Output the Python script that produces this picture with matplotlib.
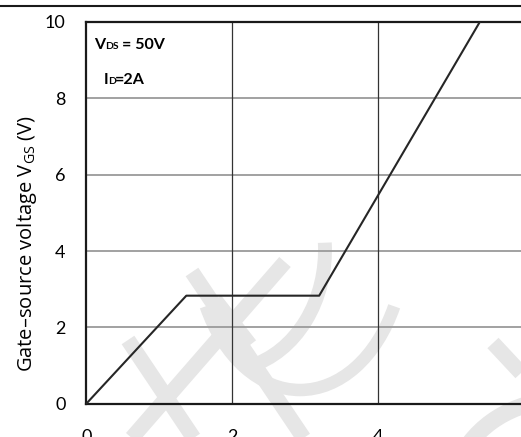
import matplotlib
matplotlib.use('Agg')
import matplotlib.pyplot as plt
from matplotlib.lines import Line2D
from matplotlib.patches import Arc

plt.rcParams['font.family'] = ['Lato', 'DejaVu Sans']
plt.rcParams['mathtext.default'] = 'regular'

# gate charge curve (x: Qg, y: Vgs)
qg = [0, 1.37, 3.19, 5.39]
vgs = [0, 2.83, 2.83, 10]
xticks = [0, 2, 4]
yticks = [0, 2, 4, 6, 8, 10]

W, H = 521, 437
fig = plt.figure(figsize=(W / 100, H / 100), dpi=100)
ax = fig.add_axes([86.3 / W, (H - 403.7) / H, 438 / W, 381.7 / H])

# light watermark strokes behind the plot (figure pixel coords)
wm = '#e6e6e6'
def px(x, y):
    return x / W, 1 - y / H
strokes = [
    [(192, 272), (305, 440)],
    [(285, 262), (130, 440)],
    [(128, 340), (195, 440)],
    [(493, 343), (521, 373)],
    [(215, 300), (250, 345)],
]
for s in strokes:
    xs, ys = zip(*[px(*p) for p in s])
    fig.add_artist(Line2D(xs, ys, color=wm, lw=11, solid_capstyle='butt', zorder=0))
fig.add_artist(Arc(px(225, 250), 200 / W, 240 / H, theta1=-80, theta2=5,
                   transform=fig.transFigure, color=wm, lw=10, zorder=0))
fig.add_artist(Arc(px(300, 240), 210 / W, 300 / H, theta1=-140, theta2=-40,
                   transform=fig.transFigure, color=wm, lw=9, zorder=0))
fig.add_artist(Arc(px(560, 500), 220 / W, 200 / H, theta1=95, theta2=160,
                   transform=fig.transFigure, color=wm, lw=12, zorder=0))
ax.patch.set_alpha(0)

ax.plot(qg, vgs, color='#262626', lw=1.5, zorder=3)

ax.set_xlim(0, 6)
ax.set_ylim(0, 10)
ax.set_xticks(xticks)
ax.set_yticks(yticks)
ax.tick_params(length=0, labelsize=13)
ax.tick_params(axis='x', pad=18)
ax.tick_params(axis='y', pad=15)
for v in yticks[1:-1]:
    ax.axhline(v, color='#9a9a9a', lw=1.3, zorder=1)
for v in xticks[1:]:
    ax.axvline(v, color='#333333', lw=0.9, zorder=1)
for sp in ax.spines.values():
    sp.set_linewidth(1.6)
    sp.set_color('#1a1a1a')

ax.set_ylabel('Gate\u2013source voltage V$_{GS}$ (V)', fontsize=14.5, family='Open Sans')
ax.yaxis.set_label_coords(-47 / 438, 0.42)

# annotation
ty1 = 1 - 27 / 381.7
ty2 = 1 - 62 / 381.7
ax.text(8 / 438, ty1, 'V', fontsize=11.5, fontweight='bold', transform=ax.transAxes)
ax.text(19 / 438, ty1, 'DS', fontsize=7.5, fontweight='bold', transform=ax.transAxes)
ax.text(36 / 438, ty1, '= 50V', fontsize=11.5, fontweight='bold', transform=ax.transAxes)
ax.text(17 / 438, ty2, 'I', fontsize=11.5, fontweight='bold', transform=ax.transAxes)
ax.text(22 / 438, ty2, 'D', fontsize=7.5, fontweight='bold', transform=ax.transAxes)
ax.text(29 / 438, ty2, '=2A', fontsize=11.5, fontweight='bold', transform=ax.transAxes)

# page rule at the top
fig.add_artist(Line2D([0, 1], [1 - 6 / H, 1 - 6 / H], color='#1a1a1a', lw=1.5))

fig.savefig('out.png', dpi=100)
